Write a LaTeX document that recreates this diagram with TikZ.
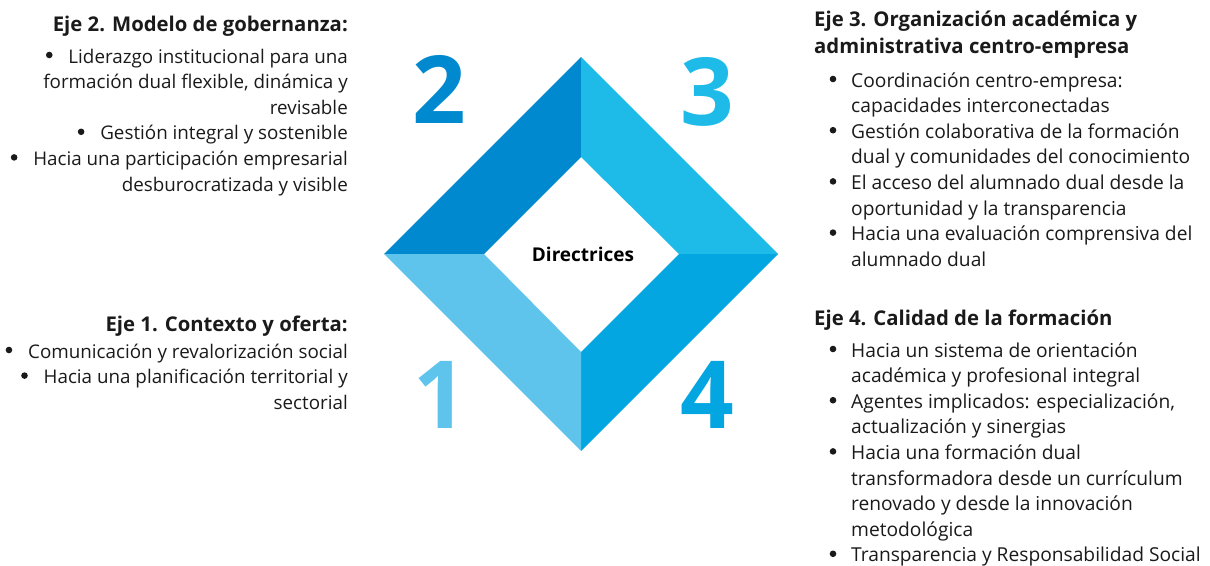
\documentclass[tikz,border=0pt]{standalone}
\usepackage{fontspec}
\setmainfont{Open Sans}
\definecolor{cTwo}{HTML}{0089CF}
\definecolor{cThree}{HTML}{1EBBE9}
\definecolor{cFour}{HTML}{04A6E1}
\definecolor{cOne}{HTML}{5EC4EC}
\definecolor{txt}{HTML}{1A1A1A}
\begin{document}
\begin{tikzpicture}[x=1pt,y=-1pt,
  body/.style={inner sep=0pt,text=txt,font=\fontsize{19.2}{25}\selectfont},
  lbody/.style={inner sep=0pt,text=txt,font=\fontsize{18.8}{25}\selectfont},
  head/.style={inner sep=0pt,text=txt,font=\fontsize{20.3}{25}\selectfont\bfseries},
  bulletdot/.style={circle,fill=txt,inner sep=0pt,minimum size=6.6pt},
  bignum/.style={inner sep=0pt,anchor=base,font=\fontsize{94}{94}\selectfont\bfseries}]
\useasboundingbox (0,0) rectangle (1210,565);
% diamond
\coordinate (OT) at (581,57);  \coordinate (OR) at (778,254);
\coordinate (OB) at (581,451); \coordinate (OL) at (384,254);
\coordinate (IT) at (581,157); \coordinate (IR) at (679,254);
\coordinate (IB) at (581,352); \coordinate (IL) at (484,254);
\fill[cTwo]   (OL) -- (OT) -- (IT) -- (IL) -- cycle;
\fill[cThree] (OT) -- (OR) -- (IR) -- (IT) -- cycle;
\fill[cFour]  (OR) -- (OB) -- (IB) -- (IR) -- cycle;
\fill[cOne]   (OB) -- (OL) -- (IL) -- (IB) -- cycle;
\node[inner sep=0pt,text=black,font=\fontsize{19}{20}\selectfont\bfseries,anchor=base] (dir) at (583,261) {Directrices};
% numbers
\node[bignum,text=cTwo]   (n2) at (439,123) {2};
\node[bignum,text=cThree] (n3) at (707,125) {3};
\node[bignum,text=cOne]   (n1) at (440,428) {1};
\node[bignum,text=cFour]  (n4) at (707,428) {4};
% Eje 2
\node[head,anchor=base east] (h2) at (348,31) {Eje 2. Modelo de gobernanza:};
\foreach \t [count=\i] in {{Liderazgo institucional para una},{formación dual flexible, dinámica y},{revisable},{Gestión integral y sostenible},{Hacia una participación empresarial},{desburocratizada y visible}}
  \node[lbody,anchor=base east] (a\i) at (348,{63+25.6*(\i-1)}) {\t};
\foreach \i in {1,4,5}
  \node[bulletdot] (ab\i) at ([shift={(-19,-8)}]a\i.base west) {};
% Eje 1
\node[head,anchor=base east] (h1) at (348,331) {Eje 1. Contexto y oferta:};
\foreach \t [count=\i] in {{Comunicación y revalorización social},{Hacia una planificación territorial y},{sectorial}}
  \node[lbody,anchor=base east] (b\i) at (348,{358+25.6*(\i-1)}) {\t};
\foreach \i in {1,2}
  \node[bulletdot] (bb\i) at ([shift={(-19,-8)}]b\i.base west) {};
% Eje 3
\node[head,anchor=base west] (h3a) at (814,26) {Eje 3. Organización académica y};
\node[head,anchor=base west] (h3b) at (814,53) {administrativa centro-empresa};
\foreach \t [count=\i] in {{Coordinación centro-empresa:},{capacidades interconectadas},{Gestión colaborativa de la formación},{dual y comunidades del conocimiento},{El acceso del alumnado dual desde la},{oportunidad y la transparencia},{Hacia una evaluación comprensiva del},{alumnado dual}}
  \node[body,anchor=base west] (c\i) at (851,{87+25.6*(\i-1)}) {\t};
\foreach \i in {1,3,5,7}
  \node[bulletdot] (cb\i) at ([shift={(-18,-8)}]c\i.base west) {};
% Eje 4
\node[head,anchor=base west] (h4) at (814,325) {Eje 4. Calidad de la formación};
\foreach \t [count=\i] in {{Hacia un sistema de orientación},{académica y profesional integral},{Agentes implicados: especialización,},{actualización y sinergias},{Hacia una formación dual},{transformadora desde un currículum},{renovado y desde la innovación},{metodológica},{Transparencia y Responsabilidad Social}}
  \node[body,anchor=base west] (d\i) at (851,{357+25.6*(\i-1)}) {\t};
\foreach \i in {1,3,5,9}
  \node[bulletdot] (db\i) at ([shift={(-18,-8)}]d\i.base west) {};
\end{tikzpicture}
\end{document}
